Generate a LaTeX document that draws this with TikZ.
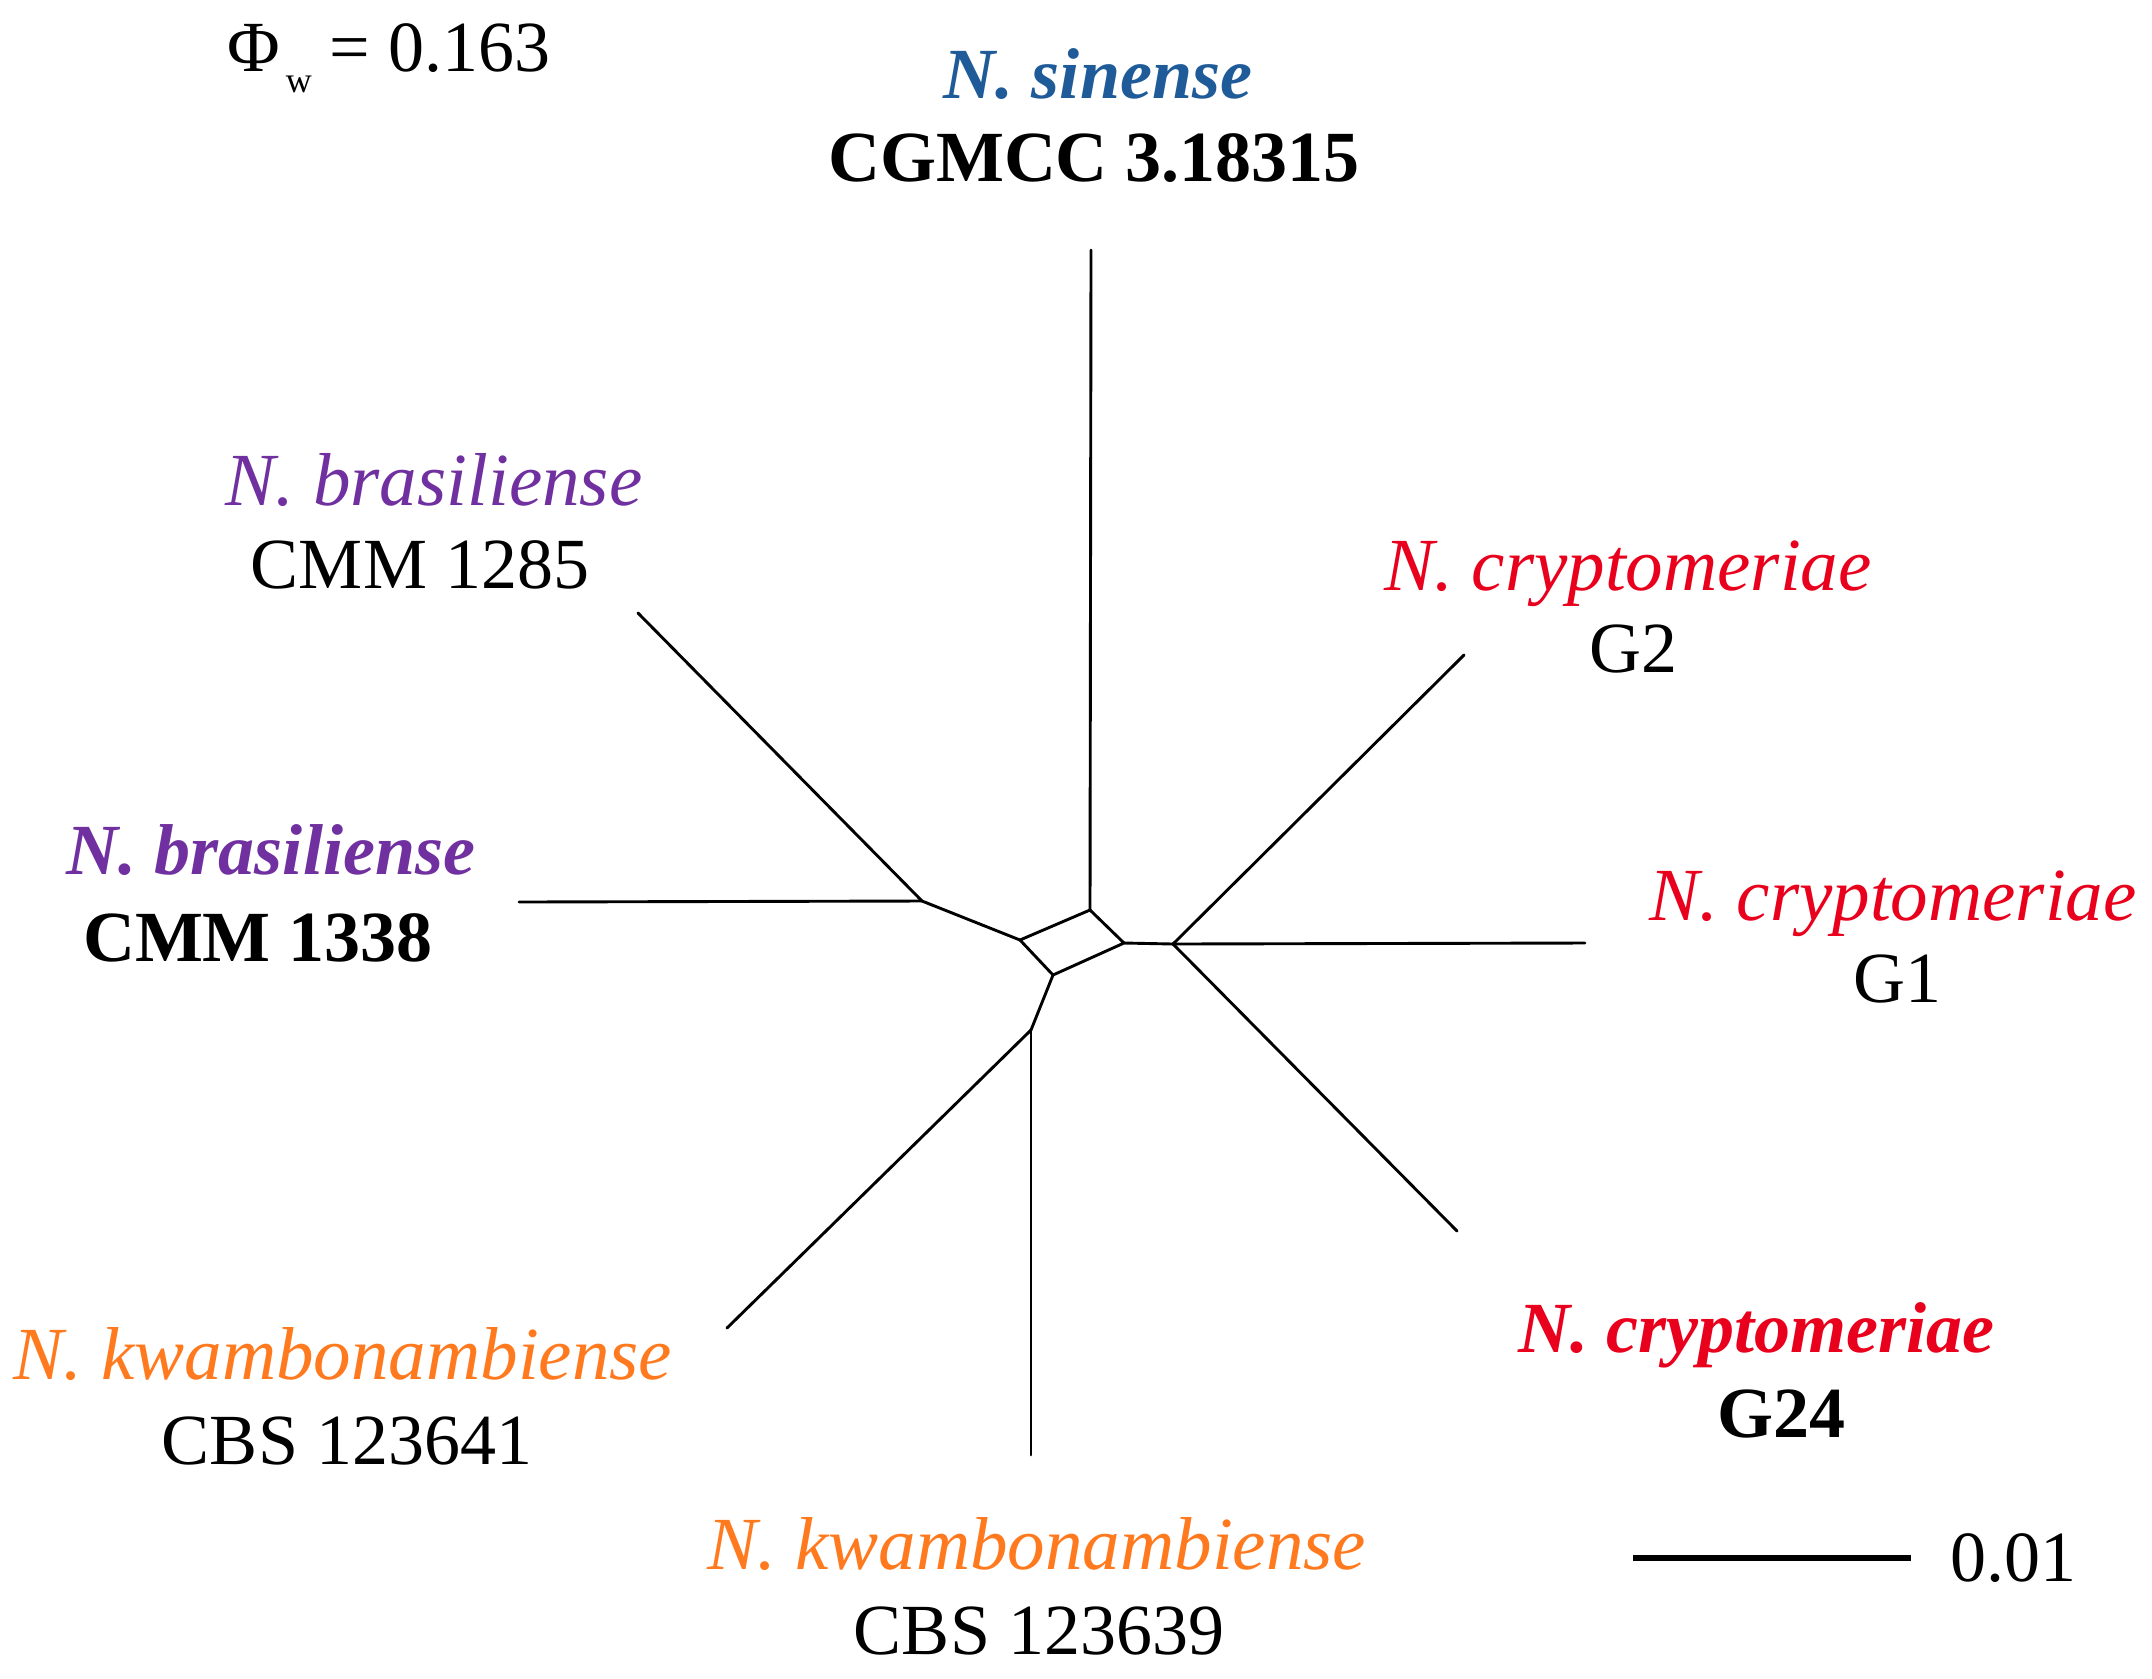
\documentclass[tikz,border=0pt]{standalone}
\usepackage{fontspec}
\setmainfont{Liberation Serif}
\definecolor{cblue}{HTML}{1F5B98}
\definecolor{cpurple}{HTML}{7030A0}
\definecolor{cred}{HTML}{E8001C}
\definecolor{corange}{HTML}{FF7A1F}
\tikzset{
  br/.style={line width=1.45pt, line cap=round, line join=round},
  scalebar/.style={line width=2.8pt},
  lab/.style={anchor=base, inner sep=0pt, font=\fontsize{36}{40}\selectfont},
  ilab/.style={lab, font=\fontsize{37.5}{42}\selectfont\itshape},
}
\begin{document}
\begin{tikzpicture}[x=0.5pt, y=-0.5pt]
\useasboundingbox (0,0) rectangle (2152,1678);
% network vertices
\coordinate (T) at (1090,910);
\coordinate (L) at (1020,940);
\coordinate (R) at (1124,943);
\coordinate (B) at (1053,975);
\coordinate (J1) at (922,901);
\coordinate (J2) at (1173,944);
\coordinate (J3) at (1031,1030);
% leaves
\coordinate (lsin) at (1091,250);
\coordinate (l1285) at (638,613);
\coordinate (l1338) at (519,902);
\coordinate (lG2) at (1464,655);
\coordinate (lG1) at (1585,943);
\coordinate (lG24) at (1457,1231);
\coordinate (l641) at (727,1328);
\coordinate (l639) at (1031,1455);
% edges
\draw[br] (L) -- (T) -- (R) -- (B) -- cycle;
\draw[br] (T) -- (lsin);
\draw[br] (L) -- (J1);
\draw[br] (J1) -- (l1285);
\draw[br] (J1) -- (l1338);
\draw[br] (R) -- (J2);
\draw[br] (J2) -- (lG2);
\draw[br] (J2) -- (lG1);
\draw[br] (J2) -- (lG24);
\draw[br] (B) -- (J3);
\draw[br] (J3) -- (l641);
\draw[br] (J3) -- (l639);
% labels
\node[lab] (phi) at (389,71) {Φ\hspace{0.08em}\raisebox{-0.3em}{\fontsize{18}{20}\selectfont w} = 0.163};
\node[lab, text=cblue] (sin1) at (1098,98) {\bfseries\itshape N. sinense};
\node[lab] (sin2) at (1094,181) {\bfseries CGMCC 3.18315};
\node[ilab, text=cpurple] (b1a) at (434,505) {N. brasiliense};
\node[lab] (b1b) at (420,588) {CMM 1285};
\node[lab, text=cpurple] (b2a) at (271,874) {\bfseries\itshape N. brasiliense};
\node[lab] (b2b) at (258,961) {\bfseries CMM 1338};
\node[ilab, text=cred] (g2a) at (1628,590) {N. cryptomeriae};
\node[lab] (g2b) at (1633,672) {G2};
\node[ilab, text=cred] (g1a) at (1893,920) {N. cryptomeriae};
\node[lab] (g1b) at (1897,1002) {G1};
\node[lab, text=cred] (g24a) at (1756,1352) {\bfseries\itshape N. cryptomeriae};
\node[lab] (g24b) at (1781,1437) {\bfseries G24};
\node[ilab, text=corange] (k1a) at (343,1379) {N. kwambonambiense};
\node[lab] (k1b) at (347,1464) {CBS 123641};
\node[ilab, text=corange] (k2a) at (1037,1569) {N. kwambonambiense};
\node[lab] (k2b) at (1039,1654) {CBS 123639};
% scale bar
\coordinate (sbL) at (1633,1558);
\coordinate (sbR) at (1911,1558);
\draw[scalebar] (sbL) -- (sbR);
\node[lab] (sbt) at (2013,1581) {0.01};
\end{tikzpicture}
\end{document}
